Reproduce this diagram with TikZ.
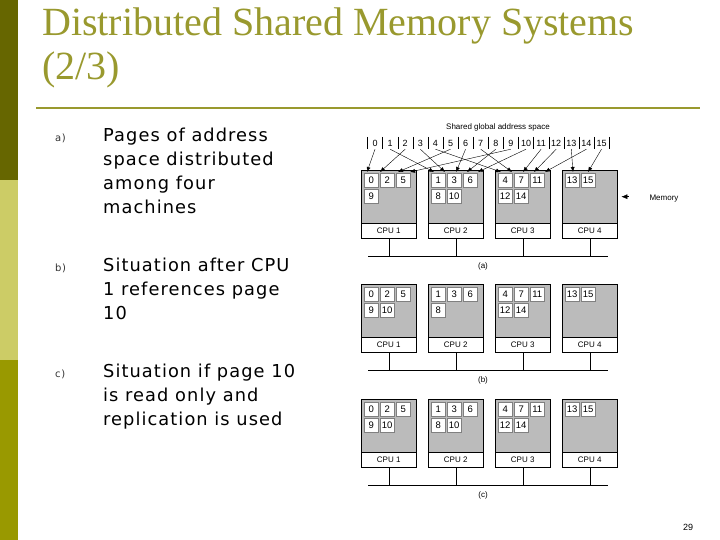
\documentclass[tikz,border=0pt]{standalone}
\usepackage{fontspec}
\setmainfont{Liberation Serif}
\setsansfont{DejaVu Sans}[LetterSpace=6]
\newfontfamily\arialf{Liberation Sans}
\usetikzlibrary{positioning,arrows.meta}
\definecolor{olivedark}{HTML}{666600}
\definecolor{olivelight}{HTML}{CCCC66}
\definecolor{olivemid}{HTML}{999900}
\definecolor{titleolive}{HTML}{99992E}
\definecolor{memgray}{HTML}{BBBBBB}
\tikzset{
  page/.style={draw=gray,fill=white,minimum width=14pt,minimum height=14pt,inner sep=0pt,font=\arialf\fontsize{9.5}{9.5}\selectfont},
  mem/.style={draw=black,fill=memgray,minimum width=55pt,minimum height=53pt,inner sep=0pt},
  cpu/.style={draw=black,fill=white,minimum width=55pt,minimum height=15pt,inner sep=0pt,font=\arialf\fontsize{8}{8}\selectfont},
  item/.style={anchor=north west,font=\sffamily\fontsize{17.8}{24}\selectfont,align=left,inner sep=0pt},
  tag/.style={anchor=north west,font=\sffamily\fontsize{10}{10}\selectfont,text=black!80,inner sep=0pt},
  small/.style={font=\arialf\fontsize{8}{8}\selectfont,inner sep=0pt}
}
\begin{document}
\begin{tikzpicture}[x=1pt,y=-1pt,>=latex]
    \useasboundingbox (0,0) rectangle (720,540);
    % side bar
    \fill[olivedark](0,0)rectangle(18,180);
    \fill[olivelight](0,180)rectangle(18,360);
    \fill[olivemid](0,360)rectangle(18,540);
    % title
    \node[anchor=north west,inner sep=0pt,text=titleolive,font=\fontsize{40}{44}\selectfont,align=left] (title) at (42,8){Distributed Shared Memory Systems\\(2/3)};
    \draw[titleolive,line width=2.5pt](36,108)--(700,108);
    % items
    \node[tag] (ta) at (55,134){a)};
    \node[item] (ia) at (103,128){Pages of address\\space distributed\\among four\\machines};
    \node[tag] (tb) at (55,264){b)};
    \node[item] (ib) at (103,258){Situation after CPU\\1 references page\\10};
    \node[tag] (tc) at (55,370){c)};
    \node[item] (ic) at (103,364){Situation if page 10\\is read only and\\replication is used};
    % three panels
    \foreach \p/\dy/\lab in {a/0/(a),b/114/(b),c/229/(c)}{
      \foreach \c/\x in {1/361,2/428,3/495,4/562}{
        \node[mem,anchor=north west] (m\p\c) at (\x,170+\dy){};
        \node[cpu,anchor=north] (c\p\c) at (m\p\c.south){CPU \c};
        \draw (c\p\c.south)--++(0,18);
      }
      \draw[thick](368,256+\dy)--(608,256+\dy);
      \node[small] (l\p) at (483,266+\dy){\lab};
    }
    % pages held by each memory
    \foreach \p/\lista/\listb in {a/{0,2,5,9}/{1,3,6,8,10},b/{0,2,5,9,10}/{1,3,6,8},c/{0,2,5,9,10}/{1,3,6,8,10}}{
      \foreach \n [count=\k from 0] in \lista{
        \pgfmathtruncatemacro\col{mod(\k,3)}\pgfmathtruncatemacro\row{div(\k,3)}
        \node[page,anchor=north west] at ([xshift=3pt+16*\col,yshift=-3pt-16*\row]m\p1.north west){\n};
      }
      \foreach \n [count=\k from 0] in \listb{
        \pgfmathtruncatemacro\col{mod(\k,3)}\pgfmathtruncatemacro\row{div(\k,3)}
        \node[page,anchor=north west] at ([xshift=3pt+16*\col,yshift=-3pt-16*\row]m\p2.north west){\n};
      }
      \foreach \n [count=\k from 0] in {4,7,11,12,14}{
        \pgfmathtruncatemacro\col{mod(\k,3)}\pgfmathtruncatemacro\row{div(\k,3)}
        \node[page,anchor=north west] at ([xshift=3pt+16*\col,yshift=-3pt-16*\row]m\p3.north west){\n};
      }
      \foreach \n [count=\k from 0] in {13,15}{
        \node[page,anchor=north west] at ([xshift=3pt+16*\k,yshift=-3pt]m\p4.north west){\n};
      }
    }
    % shared address space
    \node[small] (gas) at (498,127){Shared global address space};
    \foreach \i in {0,...,15}{
      \node[small,minimum width=15pt,minimum height=12pt,font=\arialf\fontsize{9}{9}\selectfont] (g\i) at (375+15.1*\i,143){\i};
      \draw ([xshift=-7.5pt]g\i.north)--([xshift=-7.5pt]g\i.south);
    }
    \draw ([xshift=7.5pt]g15.north)--([xshift=7.5pt]g15.south);
    % where each page lives
    \foreach \i/\c/\s in {0/1/6,2/1/19,5/1/37,9/1/49,1/2/6,3/2/17,6/2/28,8/2/39,10/2/50,4/3/6,7/3/17,11/3/28,12/3/39,14/3/50,13/4/11,15/4/26}{
      \coordinate (t\i) at ([xshift=\s pt,yshift=-2pt]ma\c.north west);
      \draw[-{Latex[length=5pt,width=4pt]},thin] (g\i.south)--(t\i);
    }
    \node[small] (memlab) at (664,199){Memory};
    \draw[{Latex[length=6pt,width=5pt]}-,thin] ([xshift=4pt]ma4.east)--++(8,0);
    \node[small,font=\arialf\fontsize{9}{9}\selectfont] (pg) at (688,527){29};
\end{tikzpicture}
\end{document}
